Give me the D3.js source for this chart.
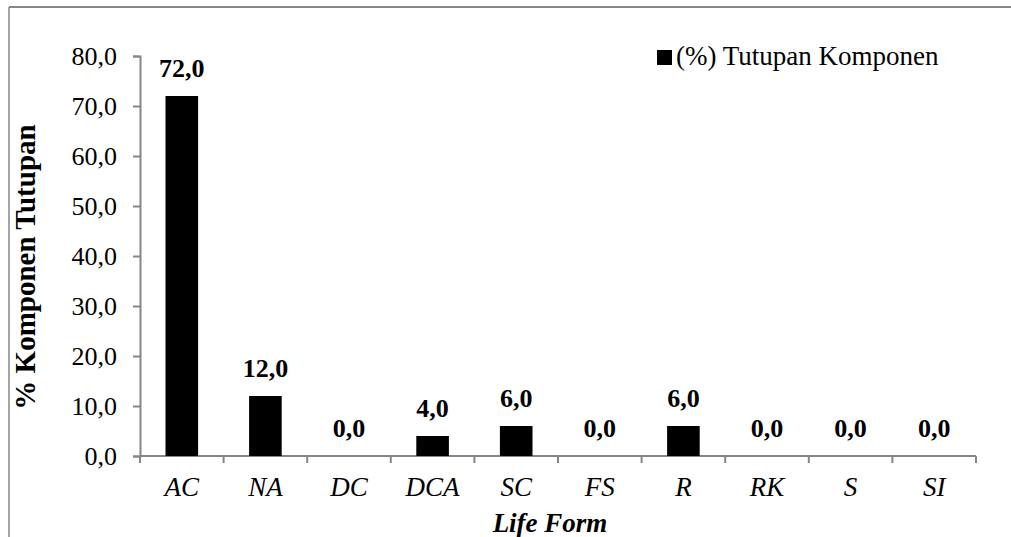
<!DOCTYPE html>
<html>
<head>
<meta charset="utf-8">
<script src="https://cdn.jsdelivr.net/npm/d3@7"></script>
</head>
<body style="margin:0">
<script>
// data
const categories = ['AC', 'NA', 'DC', 'DCA', 'SC', 'FS', 'R', 'RK', 'S', 'SI'];
const cover = [72, 12, 0, 4, 6, 0, 6, 0, 0, 0];
const yTicks = [0, 10, 20, 30, 40, 50, 60, 70, 80];
const seriesName = '(%) Tutupan Komponen';

const W = 1011, H = 537;
const axisColor = '#868686';
const fmt = d => d.toFixed(1).replace('.', ',');

const svg = d3.select('body').append('svg')
    .attr('width', W)
    .attr('height', H)
    .attr('font-family', 'Times New Roman')
    .attr('font-size', 26);

// frame (only top and left edges show in the crop)
svg.append('line').attr('x1', 9).attr('x2', W).attr('y1', 7).attr('y2', 7)
    .attr('stroke', axisColor).attr('stroke-width', 2);
svg.append('line').attr('x1', 9).attr('x2', 9).attr('y1', 7).attr('y2', H)
    .attr('stroke', axisColor).attr('stroke-width', 1.5);

const x = d3.scaleBand()
    .domain(categories)
    .range([140, 976]);

const y = d3.scaleLinear()
    .domain([0, 80])
    .range([456, 56]);

// y axis
const yAxis = svg.append('g')
    .attr('transform', 'translate(140,0)')
    .call(d3.axisLeft(y).tickValues(yTicks).tickFormat(fmt).tickSize(7).tickPadding(16));
yAxis.attr('font-family', 'Times New Roman').attr('font-size', 26);
yAxis.select('.domain').attr('stroke', axisColor).attr('stroke-width', 2);
yAxis.selectAll('.tick line').attr('stroke', axisColor).attr('stroke-width', 2);
yAxis.selectAll('.tick text')
    .attr('fill', '#000')
    .attr('dy', '0.34em');

// x axis: ticks sit between categories
const xAxis = svg.append('g').attr('transform', 'translate(0,456)');
xAxis.append('line')
    .attr('x1', 140).attr('x2', 976)
    .attr('stroke', axisColor).attr('stroke-width', 2);
const edges = categories.map(c => x(c)).concat([x(categories[categories.length - 1]) + x.bandwidth()]);
xAxis.selectAll('.xtick')
    .data(edges)
    .enter().append('line')
    .attr('class', 'xtick')
    .attr('x1', d => d).attr('x2', d => d)
    .attr('y1', 0).attr('y2', 7)
    .attr('stroke', axisColor).attr('stroke-width', 2);
xAxis.selectAll('.xlabel')
    .data(categories)
    .enter().append('text')
    .attr('class', 'xlabel')
    .attr('x', d => x(d) + x.bandwidth() / 2)
    .attr('y', 40)
    .attr('text-anchor', 'middle')
    .attr('font-size', 27)
    .attr('font-style', 'italic')
    .text(d => d);

// bars
const barW = x.bandwidth() * 0.39;
svg.selectAll('.bar')
    .data(categories)
    .enter().append('rect')
    .attr('class', 'bar')
    .attr('x', d => x(d) + (x.bandwidth() - barW) / 2)
    .attr('y', (d, i) => y(cover[i]))
    .attr('width', barW)
    .attr('height', (d, i) => y(0) - y(cover[i]))
    .attr('fill', '#000');

// value labels
svg.selectAll('.val')
    .data(categories)
    .enter().append('text')
    .attr('class', 'val')
    .attr('x', d => x(d) + x.bandwidth() / 2)
    .attr('y', (d, i) => y(cover[i]) - 19)
    .attr('text-anchor', 'middle')
    .attr('font-weight', 'bold')
    .text((d, i) => fmt(cover[i]));

// axis titles
svg.append('text')
    .attr('transform', 'translate(35,267) rotate(-90)')
    .attr('text-anchor', 'middle')
    .attr('font-size', 29)
    .attr('font-weight', 'bold')
    .text('% Komponen Tutupan');

svg.append('text')
    .attr('x', 550)
    .attr('y', 532)
    .attr('text-anchor', 'middle')
    .attr('font-size', 27)
    .attr('font-weight', 'bold')
    .attr('font-style', 'italic')
    .text('Life Form');

// legend
const legend = svg.append('g').attr('transform', 'translate(657,50)');
legend.append('rect').attr('width', 15).attr('height', 15).attr('fill', '#000');
legend.append('text')
    .attr('x', 19).attr('y', 15)
    .attr('font-size', 27)
    .text(seriesName);
</script>
</body>
</html>
